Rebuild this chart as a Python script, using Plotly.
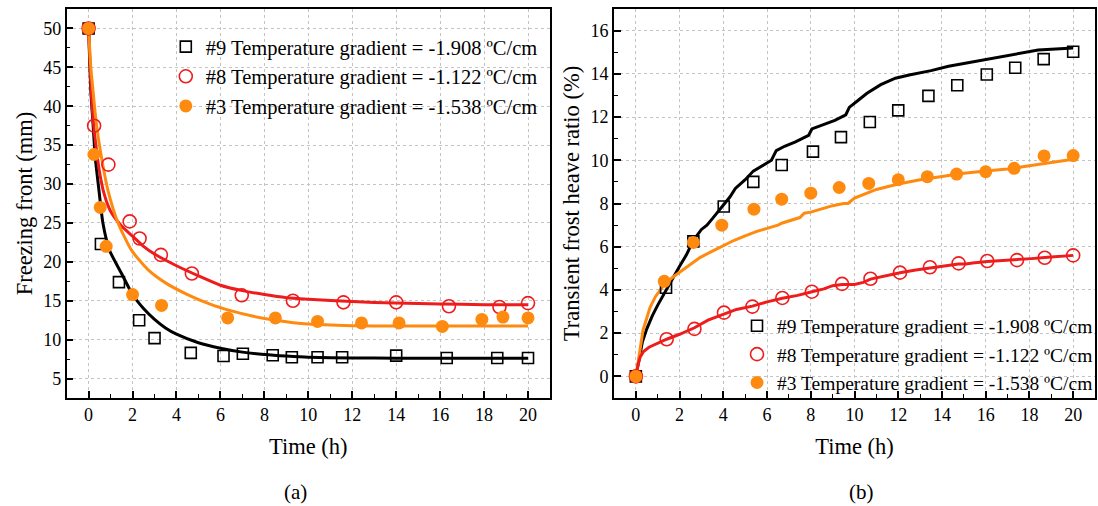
import plotly.graph_objects as go

# ---------------- Panel (a): freezing front ----------------
t9a = [0, 0.56, 1.38, 2.3, 3.0, 4.65, 6.14, 7.02, 8.38, 9.25, 10.42, 11.54, 14.0, 16.3, 18.6, 20]
f9a = [50, 22.3, 17.4, 12.5, 10.2, 8.3, 7.9, 8.2, 8.0, 7.75, 7.75, 7.75, 7.95, 7.65, 7.65, 7.65]
t8a = [0, 0.25, 0.9, 1.87, 2.32, 3.29, 4.7, 6.97, 9.3, 11.6, 14.0, 16.4, 18.7, 20]
f8a = [50, 37.5, 32.5, 25.2, 23.0, 20.9, 18.5, 15.7, 15.0, 14.8, 14.8, 14.3, 14.2, 14.7]
t3a = [0, 0.24, 0.53, 0.8, 2.0, 3.32, 6.33, 8.5, 10.42, 12.42, 14.13, 16.1, 17.9, 18.86, 20]
f3a = [50, 33.8, 27.0, 22.0, 15.8, 14.4, 12.8, 12.8, 12.35, 12.15, 12.15, 11.7, 12.6, 12.9, 12.8]

# fitted curves
fit9_t = [0, 0.1, 0.2, 0.3, 0.47, 0.65, 0.95, 1.5, 2, 2.5, 3, 3.5, 4, 5, 6, 7, 8, 9, 10, 12, 14, 16, 18, 20]
fit9_v = [50, 42, 37.8, 33.5, 29.2, 25, 21.5, 18.5, 15.8, 14.0, 12.6, 11.5, 10.7, 9.6, 8.9, 8.4, 8.1, 7.9, 7.75, 7.65, 7.62, 7.6, 7.6, 7.6]
fit8_t = [0, 0.1, 0.2, 0.35, 0.5, 0.7, 1.0, 1.5, 2, 2.5, 3, 4, 5, 6, 7, 8, 9, 10, 12, 14, 16, 18, 20]
fit8_v = [50, 43, 38.5, 34.5, 31.5, 28.8, 26.5, 24.6, 23.3, 22.0, 21.0, 19.5, 18.2, 17.0, 16.3, 15.8, 15.4, 15.2, 14.9, 14.7, 14.6, 14.5, 14.5]
fit3_t = [0, 0.1, 0.2, 0.35, 0.58, 0.88, 1.34, 1.95, 2.7, 3.5, 4.5, 5.5, 6.5, 7.5, 8.5, 10, 12, 14, 16, 18, 20]
fit3_v = [50, 45, 42, 37.8, 33.5, 29.2, 25.0, 21.5, 19.0, 17.3, 15.8, 14.6, 13.7, 13.0, 12.5, 12.0, 11.8, 11.75, 11.75, 11.75, 11.75]

# ---------------- Panel (b): transient frost heave ratio ----------------
t9b = [0, 1.38, 2.63, 4.02, 5.37, 6.67, 8.1, 9.38, 10.7, 12.0, 13.38, 14.7, 16.05, 17.35, 18.65, 20]
h9b = [0, 4.1, 6.25, 7.86, 9.0, 9.78, 10.4, 11.07, 11.77, 12.31, 12.98, 13.47, 13.97, 14.28, 14.68, 15.02]
t8b = [0, 1.41, 2.68, 4.03, 5.33, 6.7, 8.05, 9.43, 10.73, 12.08, 13.45, 14.76, 16.07, 17.43, 18.7, 20]
h8b = [0, 1.72, 2.2, 2.95, 3.23, 3.63, 3.92, 4.28, 4.52, 4.8, 5.05, 5.23, 5.34, 5.38, 5.49, 5.6]
t3b = [0, 1.3, 2.63, 3.93, 5.4, 6.67, 8.0, 9.3, 10.65, 12.0, 13.33, 14.67, 16.0, 17.3, 18.67, 20]
h3b = [0, 4.4, 6.2, 7.0, 7.74, 8.2, 8.48, 8.74, 8.93, 9.1, 9.24, 9.36, 9.47, 9.63, 10.2, 10.22]

sim9_t = [0, 0.15, 0.3, 0.5, 0.75, 1.0, 1.38, 1.7, 2.0, 2.3, 2.63, 3.0, 3.25, 3.5, 3.98, 4.3, 4.55, 5.0, 5.37, 5.7, 6.0, 6.2, 6.42, 6.8, 7.3, 7.9, 8.05, 8.6, 9.1, 9.6, 9.76, 10.2, 10.57, 11.2, 11.87, 12.5, 13.5, 14.3, 15.1, 16.0, 16.75, 17.5, 18.4, 19.2, 20]
sim9_v = [0, 0.9, 1.6, 2.2, 2.8, 3.3, 4.0, 4.6, 5.1, 5.6, 6.3, 6.8, 7.0, 7.3, 7.9, 8.3, 8.7, 9.1, 9.5, 9.7, 9.9, 10.0, 10.45, 10.65, 10.85, 11.15, 11.45, 11.65, 11.85, 12.1, 12.45, 12.8, 13.1, 13.5, 13.8, 13.95, 14.15, 14.35, 14.5, 14.65, 14.8, 14.95, 15.1, 15.15, 15.2]
sim3_t = [0, 0.1, 0.2, 0.33, 0.5, 0.65, 0.9, 1.3, 1.7, 2.1, 2.5, 2.93, 3.5, 4.07, 4.5, 5.0, 5.5, 6.0, 6.5, 6.7, 7.0, 7.5, 7.7, 8.0, 8.5, 9.0, 9.5, 9.7, 10.0, 10.5, 11.0, 12.0, 13.0, 14.0, 15.0, 16.0, 17.0, 18.0, 19.0, 20]
sim3_v = [0, 0.7, 1.4, 2.15, 2.7, 3.2, 3.7, 4.25, 4.6, 4.9, 5.2, 5.5, 5.8, 6.1, 6.3, 6.5, 6.7, 6.85, 7.0, 7.1, 7.2, 7.35, 7.55, 7.6, 7.75, 7.9, 8.0, 8.0, 8.25, 8.45, 8.65, 8.9, 9.1, 9.25, 9.4, 9.5, 9.6, 9.75, 9.9, 10.05]
sim8_t = [0, 0.1, 0.2, 0.35, 0.6, 1.0, 1.41, 2.0, 2.68, 3.3, 4.03, 4.6, 5.33, 6.0, 6.7, 7.4, 8.05, 8.6, 9.0, 9.43, 10.0, 10.4, 10.73, 11.4, 12.08, 12.8, 13.45, 14.1, 14.76, 15.1, 15.4, 16.07, 16.8, 17.43, 18.1, 18.7, 19.4, 20]
sim8_v = [0, 0.55, 0.9, 1.15, 1.35, 1.55, 1.72, 1.95, 2.25, 2.6, 2.9, 3.1, 3.25, 3.45, 3.62, 3.75, 3.92, 4.05, 4.2, 4.25, 4.25, 4.35, 4.5, 4.65, 4.8, 4.92, 5.02, 5.1, 5.2, 5.2, 5.25, 5.32, 5.36, 5.4, 5.45, 5.5, 5.55, 5.6]

names = ["#9 Temperature gradient = -1.908 ºC/cm",
         "#8 Temperature gradient = -1.122 ºC/cm",
         "#3 Temperature gradient = -1.538 ºC/cm"]

BLACK = "#000000"
RED = "#ee1c1c"
ORANGE = "#ff8a10"
FONT = "Liberation Serif"

fig = go.Figure()

# lines panel a
for tt, vv, c in [(fit9_t, fit9_v, BLACK), (fit8_t, fit8_v, RED), (fit3_t, fit3_v, ORANGE)]:
    fig.add_trace(go.Scatter(x=tt, y=vv, mode="lines", line=dict(color=c, width=3, shape="spline", smoothing=0.6),
                             showlegend=False, xaxis="x", yaxis="y"))
# lines panel b
for tt, vv, c in [(sim9_t, sim9_v, BLACK), (sim3_t, sim3_v, ORANGE), (sim8_t, sim8_v, RED)]:
    fig.add_trace(go.Scatter(x=tt, y=vv, mode="lines", line=dict(color=c, width=3),
                             showlegend=False, xaxis="x2", yaxis="y2"))

marker_styles = [
    dict(symbol="square-open", size=11, color=BLACK, line=dict(width=1.6, color=BLACK)),
    dict(symbol="circle-open", size=13, color=RED, line=dict(width=1.6, color=RED)),
    dict(symbol="circle", size=13, color=ORANGE, line=dict(width=0, color=ORANGE)),
]

for (tt, vv), m, n in zip([(t9a, f9a), (t8a, f8a), (t3a, f3a)], marker_styles, names):
    fig.add_trace(go.Scatter(x=tt, y=vv, mode="markers", marker=m, name=n,
                             xaxis="x", yaxis="y", legend="legend"))
for (tt, vv), m, n in zip([(t9b, h9b), (t8b, h8b), (t3b, h3b)], marker_styles, names):
    fig.add_trace(go.Scatter(x=tt, y=vv, mode="markers", marker=m, name=n,
                             xaxis="x2", yaxis="y2", legend="legend2"))

axis_common = dict(
    showline=True, linewidth=1.6, linecolor="black", mirror=True, automargin=False,
    ticks="inside", ticklen=7, tickwidth=1.5, tickcolor="black",
    showgrid=True, gridcolor="#c4c4c4", griddash="dot", gridwidth=1,
    zeroline=False, tickfont=dict(family=FONT, size=18, color="black"),
    title_font=dict(family=FONT, size=22.5, color="black"),
)

fig.update_layout(
    width=1098, height=506,
    margin=dict(l=0, r=0, t=0, b=0, pad=0),
    paper_bgcolor="white", plot_bgcolor="white",
    font=dict(family=FONT, color="black"),
    xaxis=dict(domain=[0.0607, 0.5009], range=[-1, 21], tick0=0, dtick=2,
               minor=dict(ticks="inside", ticklen=4, tickwidth=1.2, dtick=1, tick0=0, showgrid=False),
               title=dict(text="Time (h)", standoff=14), anchor="y", **axis_common),
    yaxis=dict(domain=[0.2134, 0.9822], range=[2.5, 52.5], tick0=0, dtick=5,
               minor=dict(ticks="inside", ticklen=4, tickwidth=1.2, dtick=2.5, tick0=0, showgrid=False),
               title=dict(text="Freezing front (mm)", standoff=4), anchor="x", **axis_common),
    xaxis2=dict(domain=[0.5592, 0.9973], range=[-1, 21], tick0=0, dtick=2,
                minor=dict(ticks="inside", ticklen=4, tickwidth=1.2, dtick=1, tick0=0, showgrid=False),
                title=dict(text="Time (h)", standoff=14), anchor="y2", **axis_common),
    yaxis2=dict(domain=[0.2134, 0.9822], range=[-1, 17], tick0=0, dtick=2,
                minor=dict(ticks="inside", ticklen=4, tickwidth=1.2, dtick=1, tick0=0, showgrid=False),
                title=dict(text="Transient frost heave ratio (%)", standoff=5), anchor="x2", **axis_common),
    legend=dict(x=0.151, y=0.947, xanchor="left", yanchor="top", bgcolor="rgba(0,0,0,0)",
                font=dict(family=FONT, size=20.5, color="black"), tracegroupgap=0),
    legend2=dict(x=1.0, y=0.394, xanchor="right", yanchor="top", bgcolor="rgba(0,0,0,0)",
                 font=dict(family=FONT, size=19.5, color="black"), tracegroupgap=0),
    annotations=[
        dict(text="(a)", x=295 / 1098, y=(506 - 492) / 506, xref="paper", yref="paper",
             xanchor="center", yanchor="middle",
             showarrow=False, font=dict(family=FONT, size=21, color="black")),
        dict(text="(b)", x=862 / 1098, y=(506 - 492) / 506, xref="paper", yref="paper",
             xanchor="center", yanchor="middle",
             showarrow=False, font=dict(family=FONT, size=21, color="black")),
    ],
)

fig.write_html("out.html")
